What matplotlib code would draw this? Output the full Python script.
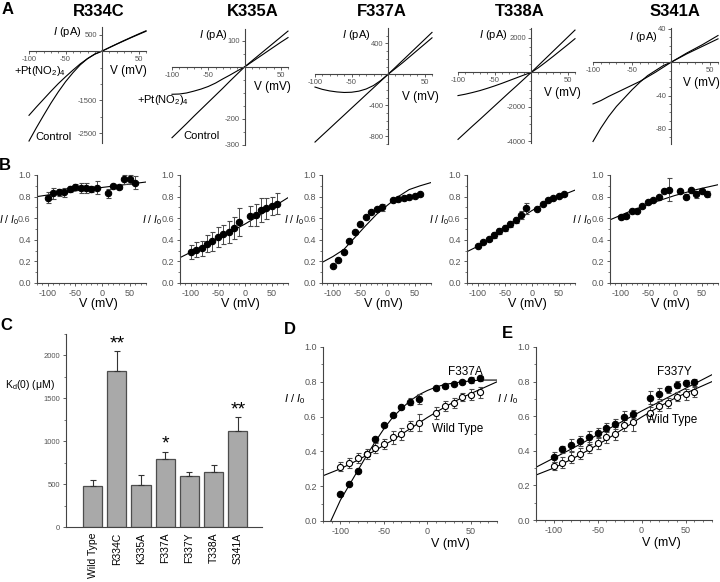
import numpy as np
import matplotlib
matplotlib.use("Agg")
import matplotlib.pyplot as plt
from matplotlib.ticker import MultipleLocator, FormatStrFormatter

plt.rcParams['font.family'] = ['Liberation Sans', 'DejaVu Sans']
plt.rcParams['mathtext.fontset'] = 'custom'
plt.rcParams['mathtext.rm'] = 'Liberation Sans'
plt.rcParams['mathtext.it'] = 'Liberation Sans:italic'
plt.rcParams['axes.unicode_minus'] = False

# ---- panel A: I-V traces (pA), read every 10 mV ----
a_v = [-100, -90, -80, -70, -60, -50, -40, -30, -20, -10, 0, 10, 20, 30, 40, 50, 60]
r334c_ctrl = [-2730, -2330, -1950, -1580, -1240, -930, -660, -420, -230, -90, 0, 110, 215, 320, 420, 520, 615]
r334c_pt = [-1950, -1700, -1460, -1220, -990, -780, -580, -390, -230, -95, 0, 105, 210, 310, 410, 505, 600]
k335a_ctrl = [-272, -245, -218, -190, -163, -136, -109, -82, -54, -27, 0, 23, 46, 69, 92, 115, 138]
k335a_pt = [-105, -104, -100, -93, -85, -75, -62, -46, -31, -15, 0, 19, 38, 57, 76, 95, 113]
f337a_ctrl = [-875, -787, -700, -612, -525, -437, -350, -262, -175, -87, 0, 90, 180, 270, 360, 450, 540]
f337a_pt = [-165, -195, -215, -228, -235, -232, -218, -190, -145, -80, 0, 75, 150, 230, 310, 390, 470]
t338a_ctrl = [-3880, -3490, -3100, -2720, -2330, -1940, -1550, -1160, -780, -390, 0, 410, 820, 1230, 1640, 2050, 2460]
t338a_pt = [-1340, -1260, -1160, -1050, -920, -780, -630, -470, -310, -150, 0, 280, 600, 930, 1270, 1610, 1960]
s341a_ctrl = [-95, -79, -65, -53, -43, -33, -24, -16, -10, -4, 0, 5.5, 11, 16, 21, 26.5, 32]
s341a_pt = [-50, -46, -41, -36.5, -32, -27.5, -23, -17.5, -12, -6, 0, 5, 10, 14.5, 19, 23.5, 28]

# ---- panels B, D, E: I/I0 vs V ----
b_v = [-100, -90, -80, -70, -60, -50, -40, -30, -20, -10, 10, 20, 30, 40, 50, 60]
r334c_y = [0.79, 0.83, 0.84, 0.84, 0.87, 0.89, 0.88, 0.88, 0.87, 0.88, 0.83, 0.90, 0.89, 0.96, 0.96, 0.93]
r334c_err = [0.05, 0.05, 0.03, 0.04, 0.03, 0.03, 0.05, 0.05, 0.03, 0.06, 0.04, 0.02, 0.02, 0.04, 0.04, 0.06]
k335a_y = [0.286, 0.307, 0.323, 0.363, 0.385, 0.425, 0.45, 0.472, 0.512, 0.565, 0.62, 0.627, 0.674, 0.69, 0.714, 0.736]
k335a_err = [0.062, 0.07, 0.07, 0.077, 0.085, 0.09, 0.09, 0.1, 0.1, 0.13, 0.094, 0.1, 0.11, 0.1, 0.086, 0.094]
f337a_y = [0.155, 0.215, 0.29, 0.385, 0.47, 0.55, 0.61, 0.655, 0.685, 0.70, 0.765, 0.775, 0.79, 0.80, 0.81, 0.82]
f337a_err = [0.01, 0.01, 0.01, 0.01, 0.015, 0.01, 0.01, 0.01, 0.02, 0.03, 0.01, 0.01, 0.01, 0.01, 0.015, 0.015]
t338a_y = [0.345, 0.38, 0.41, 0.445, 0.48, 0.51, 0.545, 0.585, 0.63, 0.69, 0.685, 0.73, 0.765, 0.785, 0.805, 0.82]
t338a_err = [0.01, 0.01, 0.02, 0.03, 0.03, 0.03, 0.03, 0.03, 0.04, 0.055, 0.01, 0.01, 0.01, 0.01, 0.01, 0.01]
s341a_y = [0.61, 0.62, 0.665, 0.67, 0.71, 0.75, 0.77, 0.795, 0.855, 0.865, 0.85, 0.80, 0.86, 0.82, 0.85, 0.825]
s341a_err = [0.02, 0.015, 0.02, 0.015, 0.015, 0.015, 0.01, 0.015, 0.015, 0.11, 0.015, 0.02, 0.015, 0.03, 0.015, 0.025]
wt_y = [0.313, 0.332, 0.361, 0.384, 0.418, 0.443, 0.48, 0.50, 0.547, 0.566, 0.62, 0.66, 0.677, 0.712, 0.726, 0.739]
wt_err = [0.025, 0.03, 0.03, 0.03, 0.03, 0.03, 0.035, 0.035, 0.03, 0.05, 0.035, 0.03, 0.03, 0.025, 0.03, 0.03]
f337y_y = [0.365, 0.408, 0.433, 0.458, 0.477, 0.504, 0.533, 0.554, 0.596, 0.612, 0.708, 0.731, 0.756, 0.783, 0.792, 0.796]
f337y_err = [0.03, 0.02, 0.035, 0.03, 0.035, 0.025, 0.025, 0.03, 0.035, 0.025, 0.035, 0.03, 0.02, 0.02, 0.02, 0.02]

# fitted curves
fit_v = [-120, -80, -40, 0, 40, 80]
r334c_fit = [0.80, 0.83, 0.86, 0.885, 0.91, 0.935]
k335a_fit = [0.235, 0.335, 0.44, 0.545, 0.665, 0.79]
s341a_fit = [0.585, 0.67, 0.745, 0.81, 0.865, 0.91]
f337y_fit = [0.305, 0.41, 0.52, 0.63, 0.735, 0.84]
fit_v2 = [-120, -100, -80, -60, -50, -40, -20, 0, 20, 40, 60, 80]
f337a_fit_b = [0.19, 0.245, 0.31, 0.42, 0.475, 0.53, 0.635, 0.72, 0.80, 0.865, 0.90, 0.93]
t338a_fit = [0.29, 0.34, 0.40, 0.465, 0.50, 0.535, 0.605, 0.67, 0.725, 0.78, 0.82, 0.86]
wt_fit = [0.26, 0.30, 0.35, 0.405, 0.435, 0.465, 0.53, 0.595, 0.655, 0.71, 0.755, 0.80]
fit_v3 = [-111, -100, -90, -80, -70, -60, -50, -40, -30, -20, -10, 0, 10, 20, 40, 60, 80]
f337a_fit_d = [0.0, 0.12, 0.205, 0.29, 0.375, 0.455, 0.53, 0.595, 0.645, 0.69, 0.725, 0.75, 0.77, 0.785, 0.80, 0.81, 0.81]

# ---- panel C: Kd(0) ----
mutants = ['Wild Type', 'R334C', 'K335A', 'F337A', 'F337Y', 'T338A', 'S341A']
kd = [481, 1822, 488, 795, 597, 643, 1120]
kd_err = [62, 225, 117, 85, 39, 82, 167]
stars = ['', '**', '', '*', '', '', '**']

W, H = 720, 582
fig = plt.figure(figsize=(7.2, 5.82), dpi=100)
tick_col = '#555555'
axis_col = '#444444'


def px_axes(l, t, r, b):
    return fig.add_axes([l / W, 1 - b / H, (r - l) / W, (b - t) / H])


def px_text(x, y, s, **kw):
    kw.setdefault('ha', 'center')
    kw.setdefault('va', 'center')
    fig.text(x / W, 1 - y / H, s, zorder=10, **kw)


def iv_panel(box, ylim, yticks, yminor, ctrl, pt):
    ax = px_axes(*box)
    ax.patch.set_alpha(0)
    ax.plot(a_v, ctrl, color='k', lw=0.8, clip_on=False)
    ax.plot(a_v, pt, color='k', lw=0.8, clip_on=False)
    ax.set_xlim(-100, 60)
    ax.set_ylim(*ylim)
    for s in ['top', 'right']:
        ax.spines[s].set_visible(False)
    for s in ['left', 'bottom']:
        ax.spines[s].set_position(('data', 0))
        ax.spines[s].set_color(axis_col)
        ax.spines[s].set_linewidth(0.8)
    ax.set_xticks([-100, -50, 50])
    ax.xaxis.set_minor_locator(MultipleLocator(10))
    ax.set_yticks(yticks)
    ax.yaxis.set_minor_locator(MultipleLocator(yminor))
    ax.tick_params(which='major', length=2, width=0.6, color=axis_col,
                   labelsize=5.5, labelcolor=tick_col, pad=1.5)
    ax.tick_params(which='minor', length=1.2, width=0.5, color=axis_col)
    return ax


iv_panel((29, 27, 146, 143), (-2790, 730), [500, -1500, -2500], 500, r334c_ctrl, r334c_pt)
iv_panel((172, 29, 288, 145), (-300, 146), [100, -200, -300], 50, k335a_ctrl, k335a_pt)
iv_panel((315, 28, 432, 144), (-900, 597), [400, -400, -800], 100, f337a_ctrl, f337a_pt)
iv_panel((458, 28, 575, 143), (-4090, 2580), [2000, -2000, -4000], 500, t338a_ctrl, t338a_pt)
iv_panel((593, 28, 718, 144), (-98, 41), [40, -40, -80], 10, s341a_ctrl, s341a_pt)

for x, name in zip([99, 253, 382, 520, 675], ['R334C', 'K335A', 'F337A', 'T338A', 'S341A']):
    px_text(x, 11, name, fontsize=12, fontweight='bold')
for x, y in [(67, 32), (213, 35), (356, 35), (493, 35), (643, 37)]:
    px_text(x, y, '$I$ (pA)', fontsize=8)
for x, y in [(128, 71), (272, 87), (420, 97), (562, 93), (701, 83)]:
    px_text(x, y, 'V (mV)', fontsize=8.5)
px_text(40, 71, '+Pt(NO$_2$)$_4$', fontsize=8)
px_text(54, 137, 'Control', fontsize=8)
px_text(163, 100, '+Pt(NO$_2$)$_4$', fontsize=8)
px_text(202, 136, 'Control', fontsize=8)


def ratio_panel(box, ylab_y, xlab_frac, ylab_size):
    ax = px_axes(*box)
    ax.set_zorder(5)
    ax.patch.set_visible(False)
    ax.set_xlim(-120, 80)
    ax.set_ylim(0, 1)
    for s in ['top', 'right']:
        ax.spines[s].set_visible(False)
    for s in ['left', 'bottom']:
        ax.spines[s].set_color(axis_col)
        ax.spines[s].set_linewidth(0.8)
    ax.set_xticks([-100, -50, 0, 50])
    ax.xaxis.set_minor_locator(MultipleLocator(10))
    ax.set_yticks([0, 0.2, 0.4, 0.6, 0.8, 1.0])
    ax.yaxis.set_minor_locator(MultipleLocator(0.1))
    ax.yaxis.set_major_formatter(FormatStrFormatter('%.1f'))
    ax.tick_params(which='major', length=2.5, width=0.6, color=axis_col,
                   labelsize=6.5, labelcolor=tick_col, pad=2)
    ax.tick_params(which='minor', length=1.5, width=0.5, color=axis_col)
    l, t, r, b = box
    ax.text(-18 / (r - l), ylab_y, '$I$ / $I_0$', transform=ax.transAxes,
            fontsize=ylab_size, ha='right', va='center')
    ax.set_xlabel('V (mV)', fontsize=9, labelpad=1)
    ax.xaxis.set_label_coords(xlab_frac, -0.14 if b - t < 150 else -0.1)
    return ax


def points(ax, y, err, filled=True):
    ax.errorbar(b_v, y, yerr=err, fmt='o', ms=4.6 if filled else 4.4,
                mfc='k' if filled else 'white', mec='k', mew=0.8,
                ecolor='#4a4a4a', elinewidth=0.7, capsize=1.8, capthick=0.7,
                zorder=3, clip_on=False)


b_boxes = [(37, 175, 146, 283), (180, 175, 288, 283), (322, 175, 431, 283),
           (467, 175, 575, 283), (610, 175, 718, 283)]
b_sets = [(r334c_y, r334c_err, fit_v, r334c_fit),
          (k335a_y, k335a_err, fit_v, k335a_fit),
          (f337a_y, f337a_err, fit_v2, f337a_fit_b),
          (t338a_y, t338a_err, fit_v2, t338a_fit),
          (s341a_y, s341a_err, fit_v, s341a_fit)]
for box, (y, err, fv, fy) in zip(b_boxes, b_sets):
    ax = ratio_panel(box, 0.58, 0.56, 7.5)
    ax.plot(fv, fy, color='k', lw=0.8, zorder=2)
    points(ax, y, err)

# panel D
ax = ratio_panel((323, 347, 497, 521), 0.7, 0.73, 8)
ax.plot(fit_v3, f337a_fit_d, color='k', lw=0.8, zorder=2)
ax.plot(fit_v2, wt_fit, color='k', lw=0.8, zorder=2)
points(ax, f337a_y, f337a_err)
points(ax, wt_y, wt_err, filled=False)
px_text(465, 372, 'F337A', fontsize=8.5)
px_text(458, 429, 'Wild Type', fontsize=8.5)

# panel E
ax = ratio_panel((536, 347, 712, 520), 0.7, 0.71, 8)
ax.plot(fit_v, f337y_fit, color='k', lw=0.8, zorder=2)
ax.plot(fit_v2, wt_fit, color='k', lw=0.8, zorder=2)
points(ax, f337y_y, f337y_err)
points(ax, wt_y, wt_err, filled=False)
px_text(674, 372, 'F337Y', fontsize=8.5)
px_text(672, 420, 'Wild Type', fontsize=8.5)

# panel C
ax = px_axes(66, 334, 262, 527)
xpos = np.arange(len(mutants))
ax.bar(xpos, kd, width=0.8, color='#a9a9a9', edgecolor='#4d4d4d', linewidth=0.9,
       yerr=[np.zeros(len(kd)), kd_err],
       error_kw=dict(ecolor='#333333', elinewidth=0.8, capsize=2.5, capthick=0.8))
for i, s in enumerate(stars):
    if s:
        ax.text(i, kd[i] + kd_err[i] + 30, s, ha='center', va='baseline', fontsize=14)
ax.set_xlim(-1.1, 7.0)
ax.set_ylim(0, 2250)
for s in ['top', 'right']:
    ax.spines[s].set_visible(False)
for s in ['left', 'bottom']:
    ax.spines[s].set_color(axis_col)
    ax.spines[s].set_linewidth(0.8)
ax.set_xticks(xpos)
ax.set_xticklabels(mutants, rotation=90, fontsize=7.5)
ax.tick_params(axis='x', length=0, pad=4)
ax.set_yticks([0, 500, 1000, 1500, 2000])
ax.yaxis.set_minor_locator(MultipleLocator(250))
ax.tick_params(axis='y', which='major', length=2.5, width=0.6, color=axis_col,
               labelsize=5.5, labelcolor=tick_col, pad=2)
ax.tick_params(axis='y', which='minor', length=1.5, width=0.5, color=axis_col)
px_text(30, 385, 'K$_\\mathrm{d}$(0) (\u03bcM)', fontsize=7.5)

# panel letters
for x, y, s in [(8, 9, 'A'), (5, 165, 'B'), (6, 325, 'C'), (290, 330, 'D'), (507, 333, 'E')]:
    px_text(x, y, s, fontsize=12, fontweight='bold')

fig.savefig('out.png', dpi=100)
